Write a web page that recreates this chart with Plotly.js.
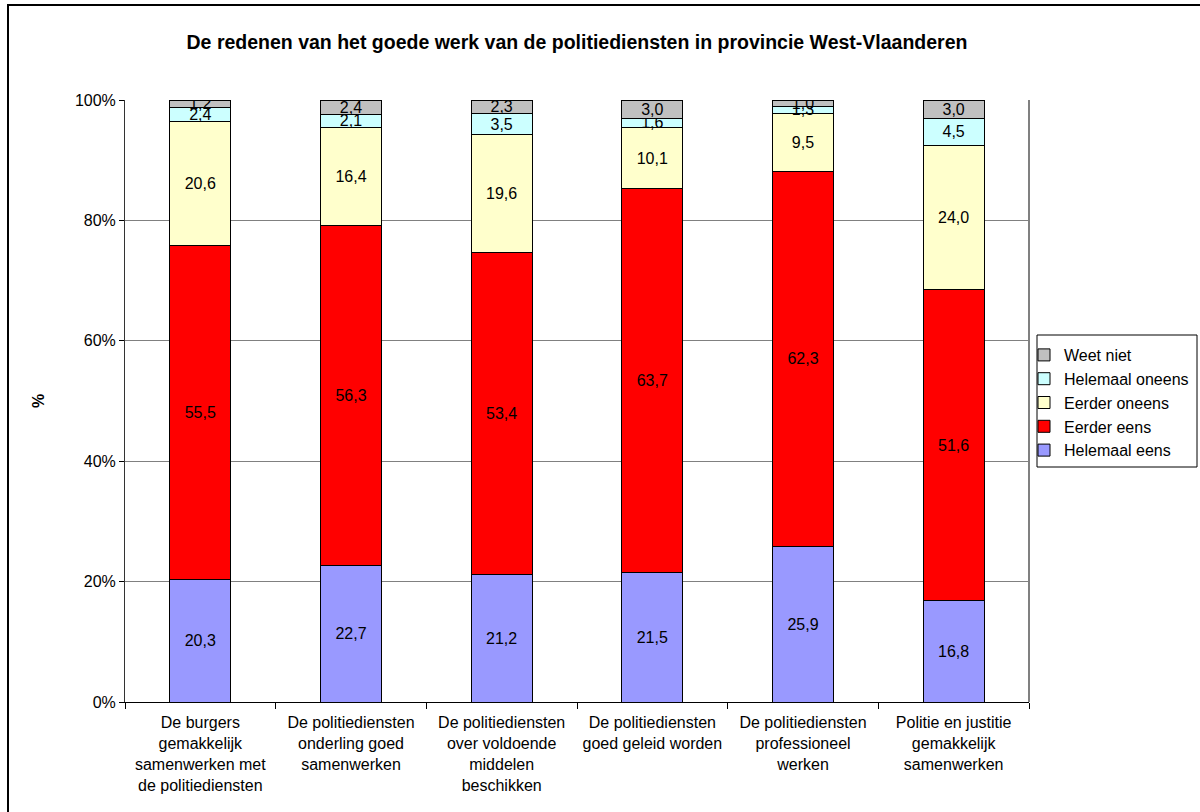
<!DOCTYPE html>
<html>
<head>
<meta charset="utf-8">
<script src="https://cdn.plot.ly/plotly-3.0.1.min.js"></script>
<style>html,body{margin:0;padding:0;background:#fff;}#chart{width:1200px;height:812px;}</style>
</head>
<body>
<div id="chart"></div>
<script>
const categories = [
  "De burgers<br>gemakkelijk<br>samenwerken met<br>de politiediensten",
  "De politiediensten<br>onderling goed<br>samenwerken",
  "De politiediensten<br>over voldoende<br>middelen<br>beschikken",
  "De politiediensten<br>goed geleid worden",
  "De politiediensten<br>professioneel<br>werken",
  "Politie en justitie<br>gemakkelijk<br>samenwerken"
];
const helemaalEens = [20.3, 22.7, 21.2, 21.5, 25.9, 16.8];
const eerderEens = [55.5, 56.3, 53.4, 63.7, 62.3, 51.6];
const eerderOneens = [20.6, 16.4, 19.6, 10.1, 9.5, 24.0];
const helemaalOneens = [2.4, 2.1, 3.5, 1.6, 1.3, 4.5];
const weetNiet = [1.2, 2.4, 2.3, 3.0, 1.0, 3.0];
const yTickVals = [0, 20, 40, 60, 80, 100];
const yTickText = ["0%", "20%", "40%", "60%", "80%", "100%"];

const seriesDefs = [
  {name: "Helemaal eens", values: helemaalEens, color: "#9999FF"},
  {name: "Eerder eens", values: eerderEens, color: "#FF0000"},
  {name: "Eerder oneens", values: eerderOneens, color: "#FFFFCC"},
  {name: "Helemaal oneens", values: helemaalOneens, color: "#CCFFFF"},
  {name: "Weet niet", values: weetNiet, color: "#C0C0C0"}
];
const fmt = v => v.toFixed(1).replace('.', ',');

const traces = seriesDefs.map(s => ({
  type: 'bar',
  name: s.name,
  x: categories,
  y: s.values,
  text: s.values.map(fmt),
  textposition: 'inside',
  insidetextanchor: 'middle',
  constraintext: 'none',
  textangle: 0,
  textfont: {family: 'Liberation Sans, Arial, sans-serif', size: 16, color: '#000'},
  marker: {color: s.color, line: {color: '#000', width: 1}},
  hoverinfo: 'name+y'
}));

const layout = {
  width: 1200, height: 812,
  margin: {l: 125, r: 171, t: 100, b: 110, autoexpand: false},
  paper_bgcolor: '#fff', plot_bgcolor: '#fff',
  barmode: 'stack',
  barnorm: 'percent',
  bargap: 0.595,
  font: {family: 'Liberation Sans, Arial, sans-serif', size: 16, color: '#000'},
  title: {
    text: '<b>De redenen van het goede werk van de politiediensten in provincie West-Vlaanderen</b>',
    font: {size: 19.5, color: '#000'},
    x: 0.5, xref: 'paper', xanchor: 'center',
    y: 1 - 42/812, yref: 'container', yanchor: 'middle'
  },
  xaxis: {
    type: 'category',
    tickson: 'boundaries',
    ticks: 'outside', ticklen: 6, tickcolor: '#000', tickwidth: 1,
    ticklabelstandoff: 6,
    showline: true, linecolor: '#000', linewidth: 1,
    showgrid: false,
    tickfont: {size: 16, color: '#000'},
    automargin: false
  },
  yaxis: {
    range: [0, 100],
    tickvals: yTickVals, ticktext: yTickText,
    ticks: 'outside', ticklen: 5, tickcolor: '#000',
    showline: true, linecolor: '#333', linewidth: 1,
    showgrid: true, gridcolor: '#808080', gridwidth: 1,
    zeroline: false,
    tickfont: {size: 16, color: '#000'},
    title: {text: '<b>%</b>', font: {size: 16, color: '#000'}, standoff: 26},
    automargin: false
  },
  legend: {
    traceorder: 'reversed',
    x: 1024/1200, xref: 'container', xanchor: 'left',
    y: 1 - 338/812, yref: 'container', yanchor: 'top',
    bgcolor: 'rgba(0,0,0,0)', borderwidth: 0,
    font: {size: 16, color: '#000'},
    itemwidth: 30, tracegroupgap: 0
  },
  shapes: [
    {type: 'line', xref: 'paper', yref: 'paper', x0: 1, x1: 1, y0: 0, y1: 1, line: {color: '#808080', width: 2}},
    {type: 'rect', xref: 'paper', yref: 'paper',
     x0: (1037 - 125) / 904, x1: (1197 - 125) / 904,
     y0: (702 - 467) / 602, y1: (702 - 335) / 602,
     line: {color: '#000', width: 1}, fillcolor: 'rgba(0,0,0,0)', layer: 'above'},
    {type: 'rect', xref: 'paper', yref: 'paper',
     x0: (8 - 125) / 904, x1: (1210 - 125) / 904,
     y0: (702 - 820) / 602, y1: (702 - 5) / 602,
     line: {color: '#000', width: 2}, fillcolor: 'rgba(0,0,0,0)', layer: 'above'}
  ],
  showlegend: true
};

Plotly.newPlot('chart', traces, layout, {displayModeBar: false, staticPlot: true});
</script>
</body>
</html>
